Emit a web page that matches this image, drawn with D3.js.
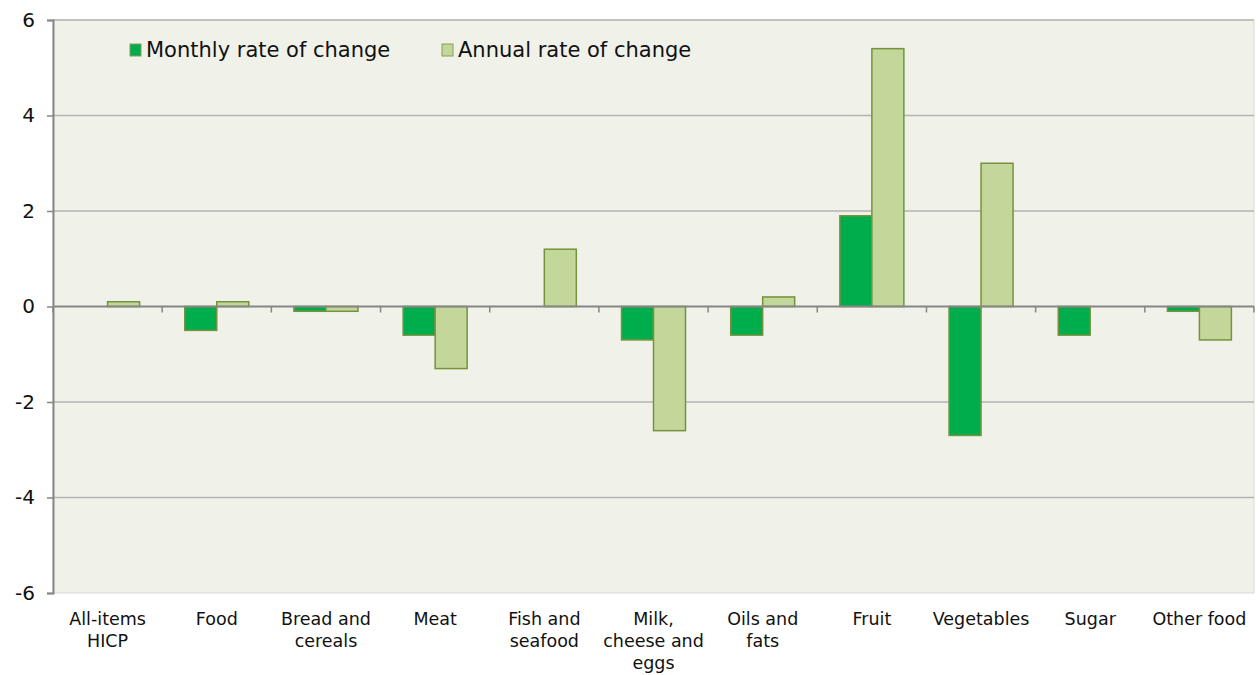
<!DOCTYPE html>
<html>
<head>
<meta charset="utf-8">
<script src="https://cdn.jsdelivr.net/npm/d3@7"></script>
<style>
  body { margin: 0; background: #fff; }
  svg text { font-family: "DejaVu Sans", Verdana, sans-serif; fill: #111; }
</style>
</head>
<body>
<svg id="chart" width="1260" height="675"></svg>
<script>
const categories = [
  ['All-items', 'HICP'], ['Food'], ['Bread and', 'cereals'], ['Meat'],
  ['Fish and', 'seafood'], ['Milk,', 'cheese and', 'eggs'], ['Oils and', 'fats'],
  ['Fruit'], ['Vegetables'], ['Sugar'], ['Other food']
];
const monthly = [0, -0.5, -0.1, -0.6, 0, -0.7, -0.6, 1.9, -2.7, -0.6, -0.1];
const annual = [0.1, 0.1, -0.1, -1.3, 1.2, -2.6, 0.2, 5.4, 3.0, 0, -0.7];
const yTicks = [-6, -4, -2, 0, 2, 4, 6];
const seriesNames = ['Monthly rate of change', 'Annual rate of change'];
const colors = ['#00ad4d', '#c4d79b'];

const margin = { left: 53, right: 6, top: 20, bottom: 82 };
const width = 1260, height = 675;
const svg = d3.select('#chart');

const x = d3.scaleBand()
  .domain(d3.range(categories.length))
  .range([margin.left, width - margin.right]);
const y = d3.scaleLinear().domain([-6, 6]).range([height - margin.bottom, margin.top]);

// plot background
svg.append('rect')
  .attr('x', margin.left).attr('y', margin.top)
  .attr('width', width - margin.right - margin.left)
  .attr('height', y(-6) - margin.top)
  .attr('fill', '#f0f2ea')
  .attr('stroke', '#d9d9d9');

// gridlines
svg.append('g').selectAll('line')
  .data(yTicks.filter(d => d !== 0 && d !== -6))
  .join('line')
  .attr('x1', margin.left).attr('x2', width - margin.right)
  .attr('y1', d => y(d)).attr('y2', d => y(d))
  .attr('stroke', '#b3b3b3').attr('stroke-width', 1.5);

// bars
const barW = 32;
const groups = svg.append('g').selectAll('g')
  .data(categories)
  .join('g')
  .attr('transform', (d, i) => `translate(${x(i) + x.bandwidth() / 2},0)`);

[monthly, annual].forEach((vals, s) => {
  groups.append('rect')
    .attr('x', s === 0 ? -barW : 0)
    .attr('width', barW)
    .attr('y', (d, i) => y(Math.max(0, vals[i])))
    .attr('height', (d, i) => Math.abs(y(vals[i]) - y(0)))
    .attr('fill', colors[s])
    .attr('stroke', (d, i) => vals[i] === 0 ? 'none' : '#76923c')
    .attr('stroke-width', 1.5);
});

// zero axis with ticks
svg.append('line')
  .attr('x1', margin.left).attr('x2', width - margin.right)
  .attr('y1', y(0)).attr('y2', y(0))
  .attr('stroke', '#868686').attr('stroke-width', 2);
svg.append('g').selectAll('line')
  .data(d3.range(categories.length + 1))
  .join('line')
  .attr('x1', i => margin.left + i * x.bandwidth())
  .attr('x2', i => margin.left + i * x.bandwidth())
  .attr('y1', y(0)).attr('y2', y(0) + 6)
  .attr('stroke', '#868686').attr('stroke-width', 1.5);

// y axis
const yAxis = svg.append('g')
  .attr('transform', `translate(${margin.left},0)`)
  .call(d3.axisLeft(y).tickValues(yTicks).tickSize(6).tickPadding(12)
    .tickFormat(d => String(d)));
yAxis.select('.domain').attr('stroke', '#868686').attr('stroke-width', 2);
yAxis.selectAll('.tick line').attr('stroke', '#868686').attr('stroke-width', 1.5);
yAxis.selectAll('.tick text')
  .style('font-size', '20px')
  .style('font-family', '"DejaVu Sans", Verdana, sans-serif')
  .attr('fill', '#111');

// category labels
groups.append('text')
  .attr('text-anchor', 'middle')
  .style('font-size', '17.5px')
  .selectAll('tspan')
  .data(d => d)
  .join('tspan')
  .attr('x', 0)
  .attr('y', (d, i) => 625 + i * 22)
  .text(d => d);

// legend
const legendX = [130, 442];
const legend = svg.append('g').selectAll('g')
  .data(seriesNames)
  .join('g')
  .attr('transform', (d, i) => `translate(${legendX[i]},44)`);
legend.append('rect')
  .attr('width', 11).attr('height', 12)
  .attr('fill', (d, i) => colors[i])
  .attr('stroke', '#8a9a5b').attr('stroke-width', 1);
legend.append('text')
  .attr('x', 16).attr('y', 13)
  .style('font-size', '21px')
  .text(d => d);
</script>
</body>
</html>
